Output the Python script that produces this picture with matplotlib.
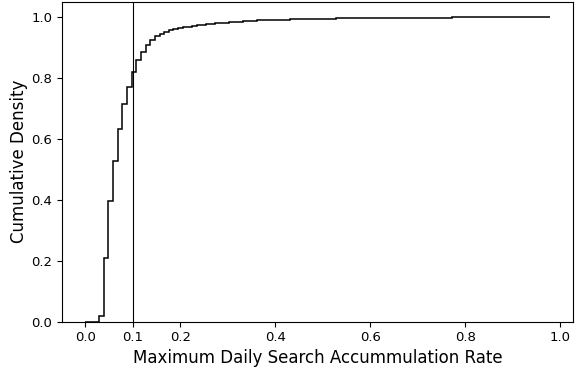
import numpy as np
import matplotlib
matplotlib.use("Agg")
import matplotlib.pyplot as plt

# histogram range (100 equal bins)
RATE_MIN = 0.0
RATE_MAX = 0.978
N_BINS = 100

# cumulative density at the end of each bin
cum_density = [
    0.0, 0.0, 0.0, 0.020, 0.208, 0.396, 0.529, 0.634, 0.714, 0.772,
    0.820, 0.859, 0.887, 0.909, 0.924, 0.937, 0.946, 0.952, 0.957, 0.961,
    0.965, 0.967, 0.969, 0.971, 0.973, 0.975, 0.977, 0.978, 0.979, 0.980,
    0.982, 0.983, 0.984, 0.985, 0.986, 0.987, 0.988, 0.989, 0.990, 0.990,
    0.991, 0.991, 0.992, 0.992, 0.993, 0.993, 0.993, 0.994, 0.994, 0.994,
    0.995, 0.995, 0.995, 0.995, 0.996, 0.996, 0.996, 0.996, 0.996, 0.997,
    0.997, 0.997, 0.997, 0.997, 0.997, 0.998, 0.998, 0.998, 0.998, 0.998,
    0.998, 0.998, 0.998, 0.998, 0.998, 0.998, 0.998, 0.998, 0.998, 0.999,
    0.999, 0.999, 0.999, 0.999, 0.999, 0.999, 0.999, 0.999, 0.999, 0.999,
    0.999, 0.999, 0.999, 0.999, 0.999, 0.999, 0.999, 1.0, 1.0, 1.0,
]

THRESHOLD = 0.1
x_ticks = [0.0, 0.1, 0.2, 0.4, 0.6, 0.8, 1.0]

#%%
edges = np.linspace(RATE_MIN, RATE_MAX, N_BINS + 1)

fig = plt.figure(figsize=(5.79, 3.71), dpi=100)
ax = fig.add_axes([0.107, 0.133, 0.883, 0.862])

ax.stairs(cum_density, edges, baseline=None, color="black", linewidth=1.1)
ax.axvline(THRESHOLD, color="black", linewidth=0.8)

ax.set_xlim(RATE_MIN - 0.05 * (RATE_MAX - RATE_MIN), RATE_MAX + 0.05 * (RATE_MAX - RATE_MIN))
ax.set_ylim(0, 1.05)
ax.set_xticks(x_ticks)
ax.tick_params(labelsize=9.5)
ax.set_xlabel("Maximum Daily Search Accummulation Rate", fontsize=12, labelpad=3)
ax.set_ylabel("Cumulative Density", fontsize=12, labelpad=2)

fig.savefig("out.png", dpi=100)
